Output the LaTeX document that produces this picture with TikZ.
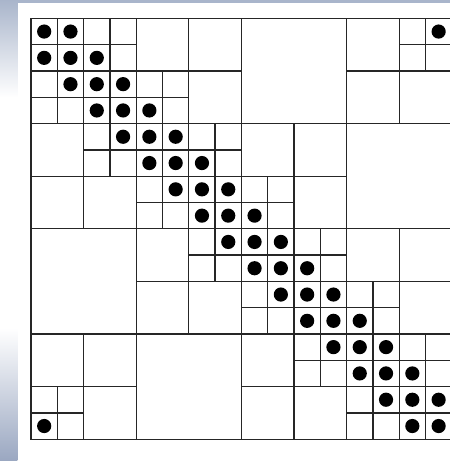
\documentclass[tikz,border=0pt]{standalone}
\usetikzlibrary{calc}
\definecolor{gridink}{HTML}{262626}
\definecolor{edgeblue}{HTML}{A9B5CB}
\definecolor{edgedeep}{HTML}{9AA7C1}

\begin{document}
\begin{tikzpicture}[
  x=0.5cm, y=-0.5cm,
  cellbox/.style={draw=gridink, line width=0.7pt},
  entry/.style={fill=black},
]
\useasboundingbox (-1.18,-0.70) rectangle (15.93,16.83);
\clip (-1.18,-0.70) rectangle (15.93,16.83);

% ---------- Rand ----------
\fill[edgeblue] (-1.18,-0.70) rectangle (15.93,-0.57);
\shade[top color=edgeblue, bottom color=white] (-1.18,-0.70) rectangle (-0.52,3.0);
\shade[top color=white, bottom color=edgedeep] (-1.18,11.78) rectangle (-0.52,16.83);

% ---------- Bloecke 4x4 ----------
\foreach \c/\r in {8/0,12/4,0/8,4/12}
  \draw[cellbox] (\c,\r) rectangle ++(4,4);

% ---------- Bloecke 2x2 ----------
\foreach \c/\r in {4/0,6/0,6/2, 0/4,0/6,2/6, 12/0,12/2,14/2, 8/4,10/4,10/6,
                   4/8,4/10,6/10, 0/12,2/12,2/14, 12/8,14/8,14/10, 8/12,8/14,10/14}
  \draw[cellbox] (\c,\r) rectangle ++(2,2);

% ---------- Einzelzellen ----------
\foreach \c/\r in {0/0,2/0,0/2,2/2, 4/2,2/4, 4/4,6/4,4/6,6/6, 6/8,8/6,
                   8/8,10/8,8/10,10/10, 10/12,12/10, 12/12,14/12,12/14,14/14, 14/0,0/14}
  \foreach \dc in {0,1}
    \foreach \dr in {0,1}
      \draw[cellbox] (\c+\dc,\r+\dr) rectangle ++(1,1);

\draw[cellbox] (0,0) rectangle (16,16);

% ---------- Eintraege ----------
\foreach \i in {0,...,15}
  \fill[entry] (\i+0.5,\i+0.5) circle (0.27);
\foreach \i in {0,...,14} {
  \fill[entry] (\i+1.5,\i+0.5) circle (0.27);
  \fill[entry] (\i+0.5,\i+1.5) circle (0.27);
}
\fill[entry] (15.5,0.5) circle (0.27);
\fill[entry] (0.5,15.5) circle (0.27);

\end{tikzpicture}
\end{document}
